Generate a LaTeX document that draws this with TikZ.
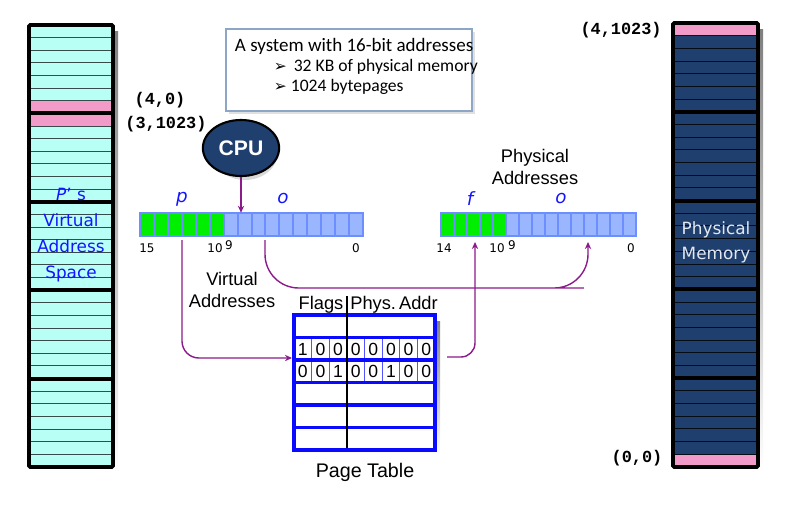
\documentclass[tikz,border=0pt]{standalone}
\usepackage{fontspec}
\setmainfont{Liberation Sans}
\newfontfamily\calfont{Carlito}
\newfontfamily\verfont{DejaVu Sans}
\newfontfamily\codefont{Liberation Mono}
\usepackage{tikz}
\usetikzlibrary{shapes,positioning,arrows.meta}
\usepackage{xcolor}
\definecolor{navy}{HTML}{1F3F6F}
\definecolor{aqua}{HTML}{B8FFF6}
\definecolor{pinkrow}{HTML}{F29AC8}
\definecolor{bitgreen}{HTML}{00EE00}
\definecolor{bitblue}{HTML}{9AB6FF}
\definecolor{bitedge}{HTML}{6C8EFF}
\definecolor{linkpurple}{HTML}{8B1A8B}
\definecolor{shade}{HTML}{ECEADF}
\definecolor{boxedge}{HTML}{8DA6C6}
\definecolor{labelblue}{HTML}{1414FF}
\definecolor{tblblue}{HTML}{0A0AFF}

\begin{document}
\begin{tikzpicture}[x=0.025cm, y=-0.025cm,
  link/.style={draw=linkpurple, line width=1pt, -{Stealth[length=5pt,width=4.5pt]}},
  bitlabel/.style={font=\verfont\fontsize{8.5}{10}\selectfont},
  fieldlabel/.style={text=labelblue, font=\verfont\itshape\fontsize{13}{15}\selectfont},
  caption/.style={font=\fontsize{13}{16}\selectfont, align=center},
  coordlabel/.style={font=\codefont\bfseries\fontsize{12}{14}\selectfont},
  digit/.style={font=\fontsize{12.5}{14}\selectfont, inner sep=0},
  thinrow/.style={line width=0.7pt},
  thickrow/.style={line width=2.8pt},
  tblline/.style={draw=tblblue, line width=2.8pt}]
\useasboundingbox (0,0) rectangle (800,509);

% virtual address space
\fill[shade] (35,31) rectangle (118,472);
\fill[aqua] (29,25) rectangle (113,467);
\fill[pinkrow] (29,100.8) rectangle (113,126);
\foreach \k in {1,...,34} \draw[thinrow, draw=black!70!aqua] (29,{25+\k*442/35}) -- (113,{25+\k*442/35});
\foreach \k in {1,...,4} \draw[thickrow] (29,{25+\k*88.4}) -- (113,{25+\k*88.4});
\draw[thickrow, rounded corners=1pt] (29,25) rectangle (113,467);
\node[text=labelblue, font=\verfont\fontsize{12}{18.5}\selectfont, align=center] (vspace) at (71,235) {\textit{P}’ s\\Virtual\\Address\\Space};

% physical memory
\fill[shade] (679,29) rectangle (763,472);
\fill[navy] (673,23) rectangle (758,467);
\fill[pinkrow] (673,23) rectangle (758,35.7);
\fill[pinkrow] (673,454.3) rectangle (758,467);
\foreach \k in {1,...,34} \draw[thinrow, draw=black!80!navy] (673,{23+\k*444/35}) -- (758,{23+\k*444/35});
\foreach \k in {1,...,4} \draw[thickrow] (673,{23+\k*88.8}) -- (758,{23+\k*88.8});
\draw[thickrow, rounded corners=1pt] (673,23) rectangle (758,467);
\node[text=white!88!navy, font=\verfont\fontsize{12}{18}\selectfont, align=center] (pmem) at (716,242) {Physical\\Memory};

\node[coordlabel] (c40) at (160,100) {(4,0)};
\node[coordlabel] (c31023) at (166,124) {(3,1023)};
\node[coordlabel] (c41023) at (621,30) {(4,1023)};
\node[coordlabel] (c00) at (637,458) {(0,0)};

% info box
\fill[black!12] (229,32) rectangle (475,114);
\draw[boxedge, fill=white, line width=1.2pt] (226,29) rectangle (472,111);
\node[anchor=west, font=\calfont\fontsize{13.5}{15}\selectfont] (sys) at (230,46) {A system with 16-bit addresses};
\node[anchor=west, font=\calfont\fontsize{12.5}{14}\selectfont] (b1) at (269,67) {{\verfont\fontsize{11}{12}\selectfont ➢}\, 32 KB of physical memory};
\node[anchor=west, font=\calfont\fontsize{12.5}{14}\selectfont] (b2) at (269,87) {{\verfont\fontsize{11}{12}\selectfont ➢} 1024 bytepages};

% cpu
\fill[black!15] (245,152) ellipse (33 and 28);
\node[ellipse, fill=navy, draw=black, line width=1.5pt, minimum width=1.65cm, minimum height=1.4cm, text=white, font=\bfseries\fontsize{15}{18}\selectfont] (cpu) at (241,148) {CPU};

% virtual address bits
\node[inner sep=0, minimum width=5.575cm, minimum height=0.575cm] (vbar) at (251,224.5) {};
\foreach \i in {0,...,5} \filldraw[fill=bitgreen, draw=bitedge, line width=1.4pt] ({140+\i*13.94},213) rectangle ++(13.94,23);
\foreach \i in {6,...,15} \filldraw[fill=bitblue, draw=bitedge, line width=1.4pt] ({140+\i*13.94},213) rectangle ++(13.94,23);
\node[fieldlabel] (vp) at (182,199) {p};
\node[fieldlabel] (vo) at (283,199) {o};
\node[bitlabel] (v15) at (147,248) {15};
\node[bitlabel] (v10) at (215,248) {10};
\node[bitlabel] (v9) at (229,245) {9};
\node[bitlabel] (v0) at (356,248) {0};
\node[caption] (vaddr) at (232,290) {Virtual\\Addresses};

% physical address bits
\node[inner sep=0, minimum width=4.875cm, minimum height=0.575cm] (pbar) at (538.5,224.5) {};
\foreach \i in {0,...,4} \filldraw[fill=bitgreen, draw=bitedge, line width=1.4pt] ({441+\i*13},213) rectangle ++(13,23);
\foreach \i in {5,...,14} \filldraw[fill=bitblue, draw=bitedge, line width=1.4pt] ({441+\i*13},213) rectangle ++(13,23);
\node[fieldlabel] (pf) at (470,199) {f};
\node[fieldlabel] (po) at (561,199) {o};
\node[bitlabel] (p14) at (444,248) {14};
\node[bitlabel] (p10) at (497,248) {10};
\node[bitlabel] (p9) at (512,245) {9};
\node[bitlabel] (p0) at (631,248) {0};
\node[caption] (paddr) at (535,167) {Physical\\Addresses};

% page table
\fill[shade] (300,321) rectangle (440,455);
\fill[white] (294,315) rectangle (435,450);
\foreach \i in {1,...,7} \draw[draw=tblblue!70, line width=0.6pt] ({294+\i*17.625},338) -- ++(0,45);
\foreach \d [count=\i from 0] in {1,0,0,0,0,0,0,0} \node[digit] (ra\i) at ({294+(\i+0.5)*17.625},349.5) {\d};
\foreach \d [count=\i from 0] in {0,0,1,0,0,1,0,0} \node[digit] (rb\i) at ({294+(\i+0.5)*17.625},371.5) {\d};
\foreach \k in {1,...,5} \draw[tblline] (294,{315+\k*22.5}) -- (435,{315+\k*22.5});
\draw[tblline] (294,315) rectangle (435,450);
\draw[line width=1pt] (347,296) -- (347,448);
\node[caption, anchor=base] (flags) at (321,309) {Flags};
\node[caption, anchor=base] (phys) at (394,309) {Phys.\,Addr};
\node[font=\fontsize{14}{17}\selectfont] (ptab) at (365,472) {Page Table};

% connectors
\coordinate (pout) at (182,240);
\coordinate (ptin) at (292,358);
\coordinate (ptout) at (447,357);
\coordinate (fin) at (475,242);
\coordinate (oout) at (265,240);
\coordinate (oin) at (588,242);
\draw[link] (cpu.south) -- (cpu.south |- vbar.north);
\draw[link, rounded corners=12pt] (pout) |- (ptin);
\draw[link, rounded corners=24pt] (oout) |- (550,288) -| (oin);
\draw[link, rounded corners=10pt] (ptout) -| (fin);
\end{tikzpicture}
\end{document}
